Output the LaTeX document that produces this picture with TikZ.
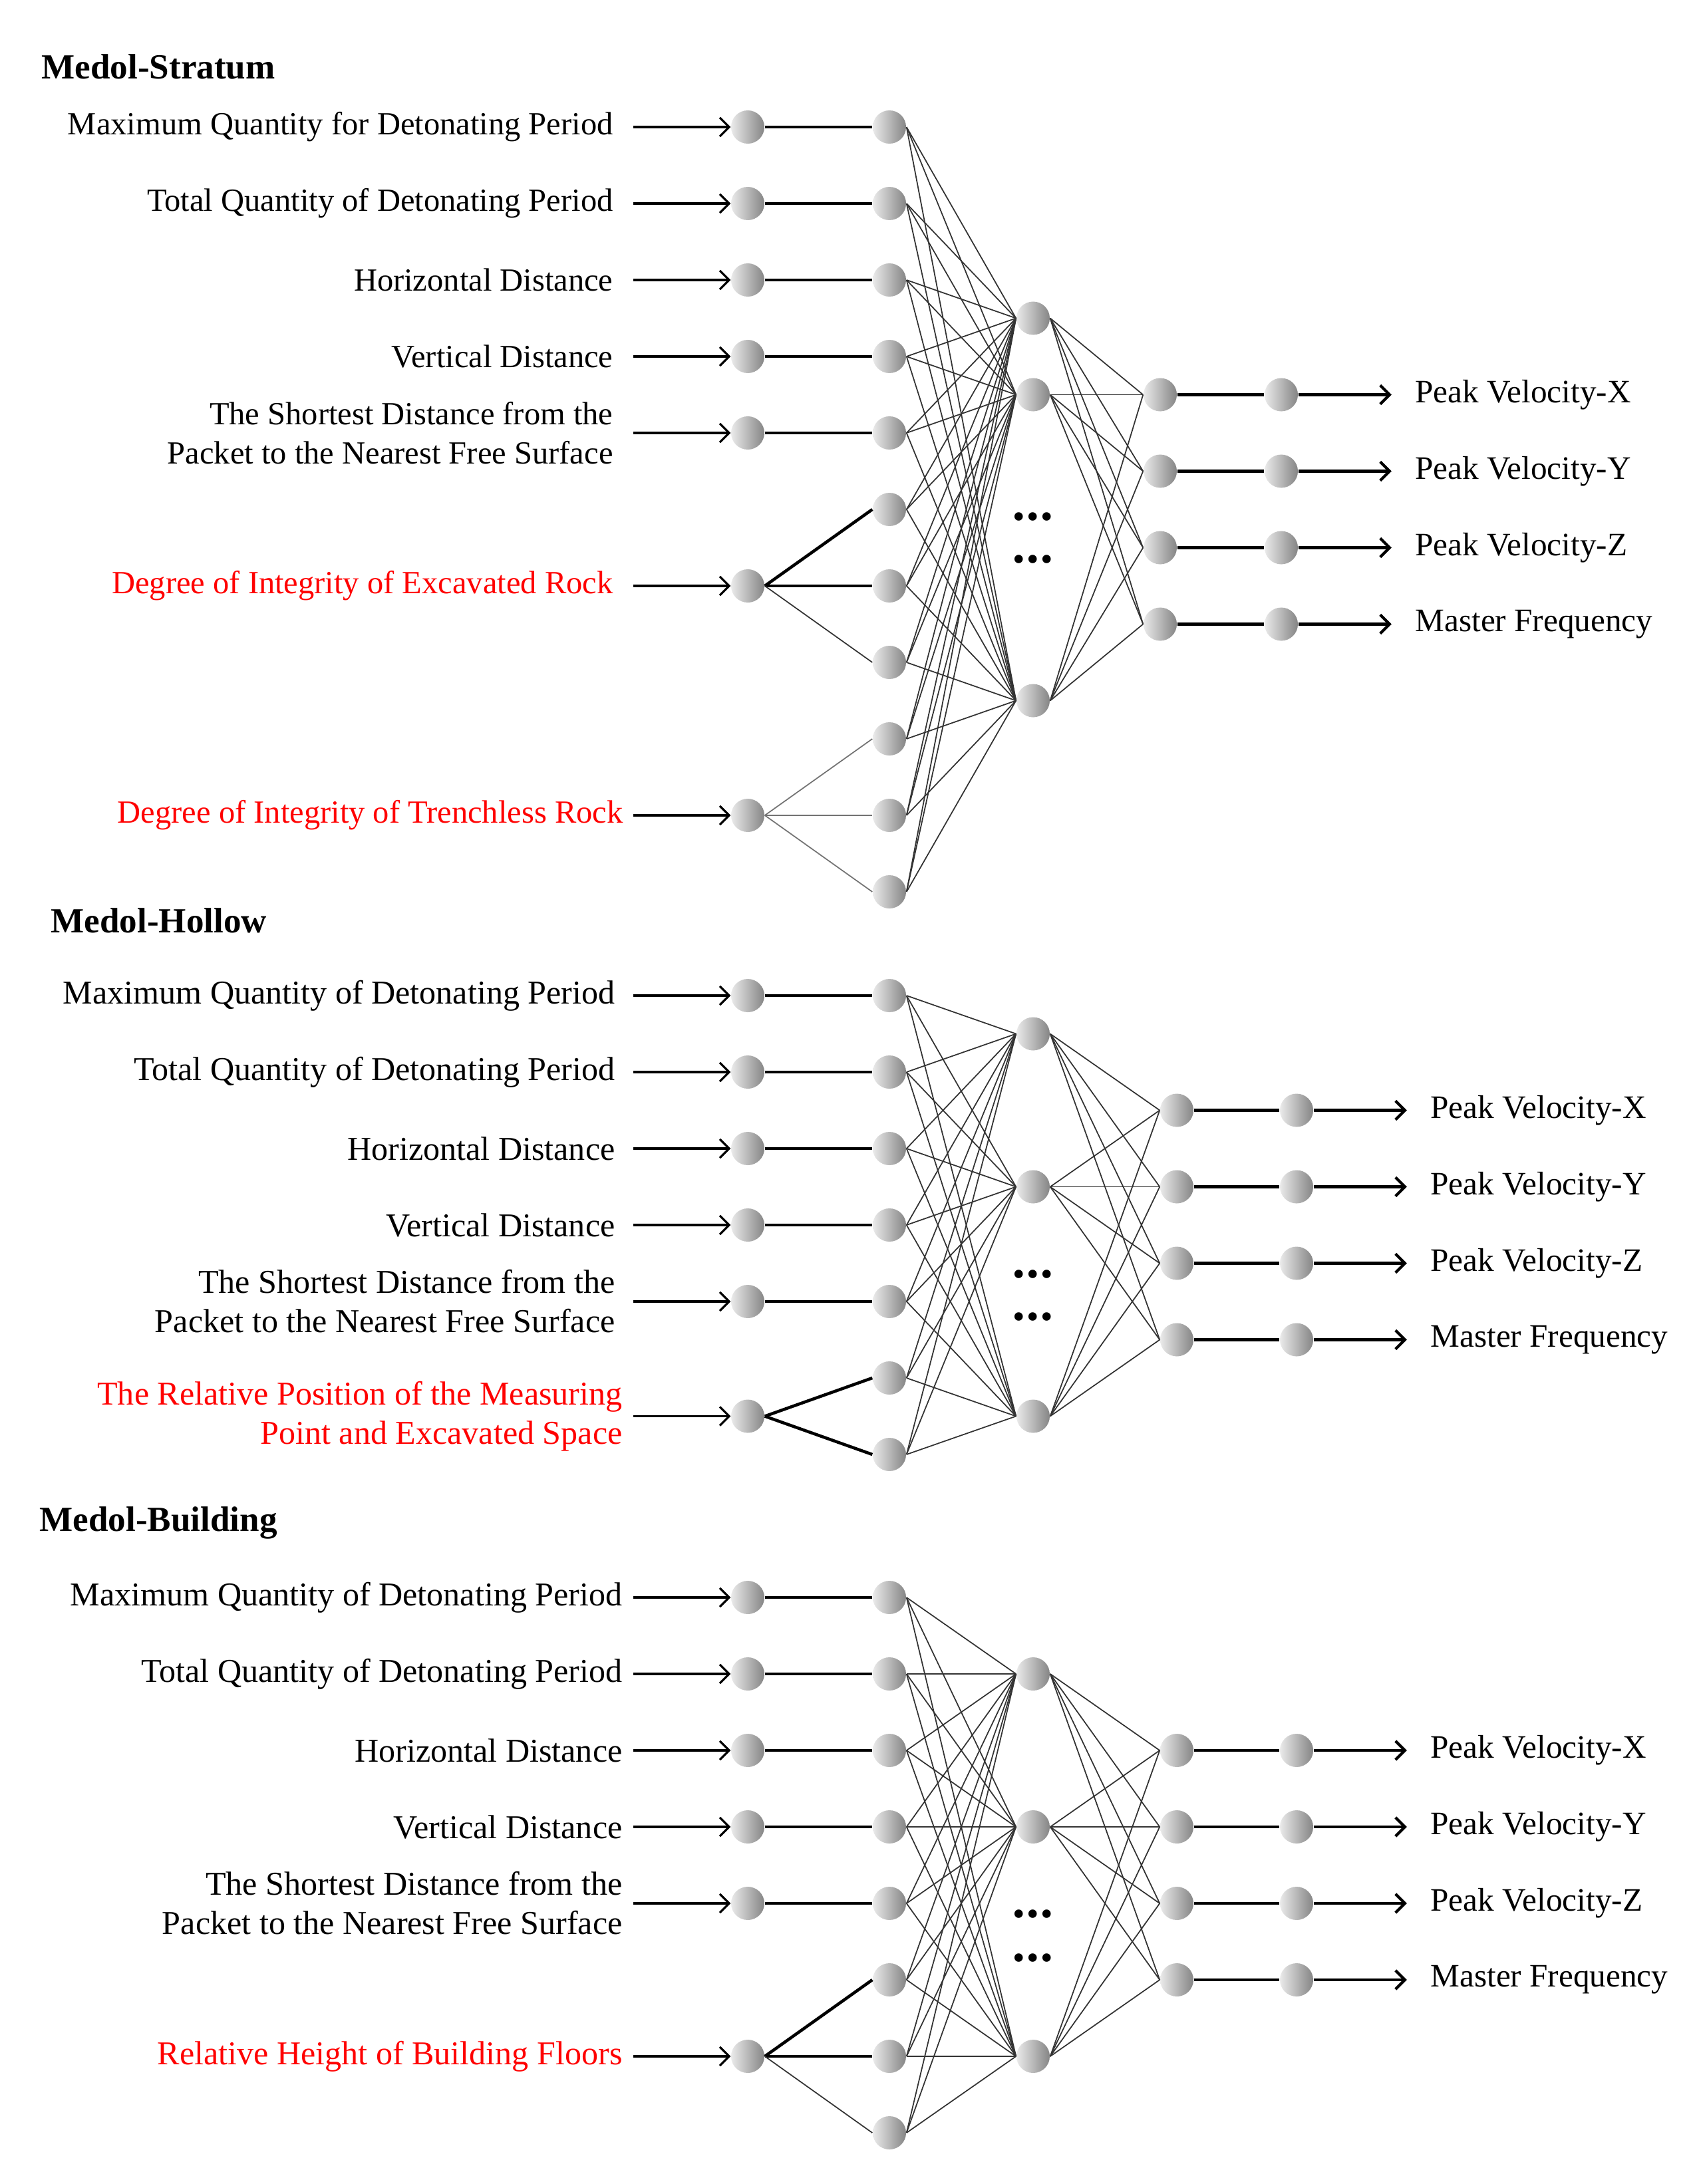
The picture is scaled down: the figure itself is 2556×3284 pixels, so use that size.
\documentclass[tikz,border=0pt]{standalone}
\usepackage{fontspec}
\setmainfont{Liberation Serif}
\usetikzlibrary{arrows.meta, positioning}

\begin{document}
\begin{tikzpicture}[
    x=0.01cm, y=-0.01cm,
    % Node styles
    neuron/.style={
        circle, minimum size=5mm, inner sep=0pt,
        left color=black!8, right color=black!48,
      },
    feature label/.style={
        align=right, inner xsep=3mm, inner ysep=0pt,
        font=\fontsize{14.25}{16.8}\selectfont,
      },
    target label/.style={
        inner xsep=3.5mm, inner ysep=0pt,
        font=\fontsize{14}{16.8}\selectfont,
      },
    model title/.style={
        anchor=west, inner sep=0pt,
        font=\fontsize{15.1}{18}\selectfont\bfseries,
      },
    dots/.style={inner sep=0pt, font=\fontsize{15}{15}\selectfont},
    % Edge styles
    strong link/.style={draw, line width=1.3pt},
    weak link/.style={draw, line width=0.5pt, black!80},
    faint link/.style={draw, line width=0.5pt, black!55},
    feed/.style={draw, line width=0.9pt, -{Straight Barb[length=4pt,width=8pt]}},
    out feed/.style={draw, line width=1.2pt, -{Straight Barb[length=4pt,width=8pt]}},
  ]
  \useasboundingbox (0,0) rectangle (2556,3284);
  \newcommand{\hdots}{•\kern0.75pt•\kern0.75pt•}

  % ---------------- Medol-Stratum ----------------
  \node[model title] (s-title) at (62,100) {Medol-Stratum};
  \foreach \i in {1,...,11}
    \node[neuron] (s-ha\i) at (1337,{191+115*(\i-1)}) {};
  \foreach \i/\r in {1/1, 2/2, 3/3, 4/4, 5/5, 6/7, 7/10}
    \node[neuron] (s-in\i) at (1124,{191+115*(\r-1)}) {};
  \foreach \i/\r in {1/3.5, 2/4.5, 3/8.5}
    \node[neuron] (s-hb\i) at (1553,{191+115*(\r-1)}) {};
  \foreach \i/\r in {1/4.5, 2/5.5, 3/6.5, 4/7.5} {
    \node[neuron] (s-oa\i) at (1744,{191+115*(\r-1)}) {};
    \node[neuron] (s-ob\i) at (1926,{191+115*(\r-1)}) {};
  }
  \node[dots] (s-dots1) at (1553,783) {\hdots};
  \node[dots] (s-dots2) at (1553,847) {\hdots};

  % input texts
  \begin{scope}[feature label/.append style={font=\fontsize{13.8}{16.8}\selectfont}]
    \foreach \i/\txt in {1/Maximum Quantity for Detonating Period,
                         2/Total Quantity of Detonating Period,
                         3/Horizontal Distance,
                         4/Vertical Distance,
                         5/{The Shortest Distance from the\\Packet to the Nearest Free Surface}}
      \node[feature label, left=1.46cm of s-in\i] (s-x\i) {\txt};
    \node[feature label, text=red, left=1.46cm of s-in6] (s-x6) {Degree of Integrity of Excavated Rock};
    \node[feature label, text=red, inner xsep=1.5mm, left=1.46cm of s-in7] (s-x7) {Degree of Integrity of Trenchless Rock};
  \end{scope}
  \foreach \i in {1,...,7}
    \draw[feed] (s-x\i.east) -- (s-in\i.west);

  % output texts
  \foreach \k/\txt in {1/Peak Velocity-X, 2/Peak Velocity-Y, 3/Peak Velocity-Z, 4/Master Frequency} {
    \node[target label, right=1.4cm of s-ob\k] (s-y\k) {\txt};
    \draw[strong link] (s-oa\k.east) -- (s-ob\k.west);
    \draw[out feed] (s-ob\k.east) -- (s-y\k.west);
  }

  % links
  \foreach \i in {1,...,5}
    \draw[strong link] (s-in\i.east) -- (s-ha\i.west);
  \draw[strong link] (s-in6.east) -- (s-ha6.west);
  \draw[strong link] (s-in6.east) -- (s-ha7.west);
  \draw[weak link] (s-in6.east) -- (s-ha8.west);
  \foreach \j in {9,10,11}
    \draw[faint link] (s-in7.east) -- (s-ha\j.west);
  \foreach \a in {1,...,11}
    \foreach \b in {1,2,3}
      \draw[weak link] (s-ha\a.east) -- (s-hb\b.west);
  \foreach \b in {1,2,3}
    \foreach \k in {1,...,4}
      \draw[weak link] (s-hb\b.east) -- (s-oa\k.west);

  % ---------------- Medol-Hollow ----------------
  \node[model title] (h-title) at (76,1384) {Medol-Hollow};
  \foreach \i in {1,...,7}
    \node[neuron] (h-ha\i) at (1337,{1497+115*(\i-1)}) {};
  \foreach \i/\r in {1/1, 2/2, 3/3, 4/4, 5/5, 6/6.5}
    \node[neuron] (h-in\i) at (1124,{1497+115*(\r-1)}) {};
  \foreach \i/\r in {1/1.5, 2/3.5, 3/6.5}
    \node[neuron] (h-hb\i) at (1553,{1497+115*(\r-1)}) {};
  \foreach \i/\r in {1/2.5, 2/3.5, 3/4.5, 4/5.5} {
    \node[neuron] (h-oa\i) at (1769,{1497+115*(\r-1)}) {};
    \node[neuron] (h-ob\i) at (1949,{1497+115*(\r-1)}) {};
  }
  \node[dots] (h-dots1) at (1553,1922) {\hdots};
  \node[dots] (h-dots2) at (1553,1986) {\hdots};

  % input texts
  \begin{scope}[feature label/.append style={inner xsep=2.7mm}]
    \foreach \i/\txt in {1/Maximum Quantity of Detonating Period,
                         2/Total Quantity of Detonating Period,
                         3/Horizontal Distance,
                         4/Vertical Distance,
                         5/{The Shortest Distance from the\\Packet to the Nearest Free Surface}}
      \node[feature label, left=1.46cm of h-in\i] (h-x\i) {\txt};
    \node[feature label, text=red, inner xsep=1.6mm, left=1.46cm of h-in6] (h-x6) {The Relative Position of the Measuring\\Point and Excavated Space};
  \end{scope}
  \foreach \i in {1,...,6}
    \draw[feed] (h-x\i.east) -- (h-in\i.west);

  % output texts
  \foreach \k/\txt in {1/Peak Velocity-X, 2/Peak Velocity-Y, 3/Peak Velocity-Z, 4/Master Frequency} {
    \node[target label, right=1.4cm of h-ob\k] (h-y\k) {\txt};
    \draw[strong link] (h-oa\k.east) -- (h-ob\k.west);
    \draw[out feed] (h-ob\k.east) -- (h-y\k.west);
  }

  % links
  \foreach \i in {1,...,5}
    \draw[strong link] (h-in\i.east) -- (h-ha\i.west);
  \draw[strong link] (h-in6.east) -- (h-ha6.west);
  \draw[strong link] (h-in6.east) -- (h-ha7.west);
  \foreach \a in {1,...,7}
    \foreach \b in {1,2,3}
      \draw[weak link] (h-ha\a.east) -- (h-hb\b.west);
  \foreach \b in {1,2,3}
    \foreach \k in {1,...,4}
      \draw[weak link] (h-hb\b.east) -- (h-oa\k.west);

  % ---------------- Medol-Building ----------------
  \node[model title] (b-title) at (59,2290) {Medol-Building};
  \foreach \i in {1,...,8}
    \node[neuron] (b-ha\i) at (1337,{2402+115*(\i-1)}) {};
  \foreach \i/\r in {1/1, 2/2, 3/3, 4/4, 5/5, 6/7}
    \node[neuron] (b-in\i) at (1124,{2402+115*(\r-1)}) {};
  \foreach \i/\r in {1/2, 2/4, 3/7}
    \node[neuron] (b-hb\i) at (1553,{2402+115*(\r-1)}) {};
  \foreach \i/\r in {1/3, 2/4, 3/5, 4/6} {
    \node[neuron] (b-oa\i) at (1769,{2402+115*(\r-1)}) {};
    \node[neuron] (b-ob\i) at (1949,{2402+115*(\r-1)}) {};
  }
  \node[dots] (b-dots1) at (1553,2884) {\hdots};
  \node[dots] (b-dots2) at (1553,2950) {\hdots};

  % input texts
  \begin{scope}[feature label/.append style={inner xsep=1.6mm}]
    \foreach \i/\txt in {1/Maximum Quantity of Detonating Period,
                         2/Total Quantity of Detonating Period,
                         3/Horizontal Distance,
                         4/Vertical Distance,
                         5/{The Shortest Distance from the\\Packet to the Nearest Free Surface}}
      \node[feature label, left=1.46cm of b-in\i] (b-x\i) {\txt};
    \node[feature label, text=red, left=1.46cm of b-in6] (b-x6) {Relative Height of Building Floors};
  \end{scope}
  \foreach \i in {1,...,6}
    \draw[feed] (b-x\i.east) -- (b-in\i.west);

  % output texts
  \foreach \k/\txt in {1/Peak Velocity-X, 2/Peak Velocity-Y, 3/Peak Velocity-Z, 4/Master Frequency} {
    \node[target label, right=1.4cm of b-ob\k] (b-y\k) {\txt};
    \draw[strong link] (b-oa\k.east) -- (b-ob\k.west);
    \draw[out feed] (b-ob\k.east) -- (b-y\k.west);
  }

  % links
  \foreach \i in {1,...,5}
    \draw[strong link] (b-in\i.east) -- (b-ha\i.west);
  \draw[strong link] (b-in6.east) -- (b-ha6.west);
  \draw[strong link] (b-in6.east) -- (b-ha7.west);
  \draw[weak link] (b-in6.east) -- (b-ha8.west);
  \foreach \a in {1,...,8}
    \foreach \b in {1,2,3}
      \draw[weak link] (b-ha\a.east) -- (b-hb\b.west);
  \foreach \b in {1,2,3}
    \foreach \k in {1,...,4}
      \draw[weak link] (b-hb\b.east) -- (b-oa\k.west);

\end{tikzpicture}
\end{document}
